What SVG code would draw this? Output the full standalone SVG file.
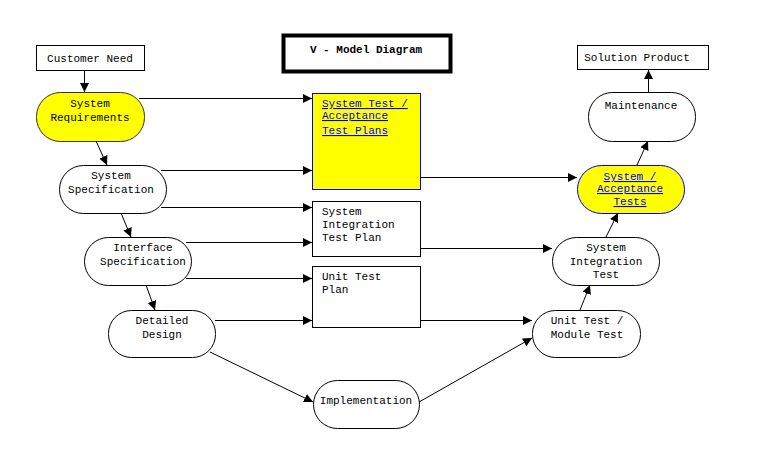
<svg xmlns="http://www.w3.org/2000/svg" width="769" height="461" viewBox="0 0 769 461">
<style>
text{font-family:"Liberation Mono","Courier New",monospace;font-size:11px;fill:#000;text-anchor:middle}
.l{text-anchor:start}
.u{fill:#0000ff;text-decoration:underline}
.n{fill:#fff;stroke:#000;stroke-width:1}
.y{fill:#ffff00;stroke:#333;stroke-width:1}
.yb{fill:#ffff00;stroke:#0000ff;stroke-width:1}
.c line{stroke:#000;stroke-width:1;marker-end:url(#a)}
</style>
<defs><marker id="a" viewBox="0 0 10 10" refX="10" refY="5" markerWidth="9" markerHeight="9" markerUnits="userSpaceOnUse" orient="auto"><path d="M0,0L10,5L0,10z" fill="#000"/></marker></defs>
<rect width="769" height="461" fill="#fff"/>
<g id="title"><rect x="283.5" y="35.5" width="167" height="36" fill="#fff" stroke="#000" stroke-width="4"/><text x="366" y="53" style="font-weight:bold">V - Model Diagram</text></g>
<g id="customer"><rect class="n" x="36.5" y="45.5" width="108" height="25"/><text x="90" y="62">Customer Need</text></g>
<g id="sysreq"><rect class="y" x="36.5" y="92.5" width="108" height="49" rx="24"/><text x="90" y="107">System</text><text x="90" y="121">Requirements</text></g>
<g id="sysspec"><rect class="n" x="59.5" y="165.5" width="107" height="48" rx="24"/><text x="111" y="179">System</text><text x="111" y="193">Specification</text></g>
<g id="ifspec"><rect class="n" x="84.5" y="237.5" width="107" height="48" rx="24"/><text x="143" y="251">Interface</text><text x="143" y="265">Specification</text></g>
<g id="detailed"><rect class="n" x="108.5" y="310.5" width="107" height="47" rx="23"/><text x="162" y="324">Detailed</text><text x="162" y="338">Design</text></g>
<g id="impl"><rect class="n" x="313.5" y="380.5" width="106" height="48" rx="24"/><text x="366" y="404">Implementation</text></g>
<g id="unittest"><rect class="n" x="532.5" y="310.5" width="108" height="47" rx="23"/><text x="587" y="324">Unit Test /</text><text x="587" y="338">Module Test</text></g>
<g id="sit"><rect class="n" x="552.5" y="237.5" width="107" height="48" rx="24"/><text x="606" y="251">System</text><text x="606" y="265">Integration</text><text x="606" y="278">Test</text></g>
<g id="sat"><rect class="yb" x="577.5" y="165.5" width="107" height="48" rx="24"/><text class="u" x="630" y="180">System /</text><text class="u" x="630" y="192">Acceptance</text><text class="u" x="630" y="205">Tests</text></g>
<g id="maint"><rect class="n" x="588.5" y="92.5" width="107" height="49" rx="24"/><text x="641" y="109">Maintenance</text></g>
<g id="solution"><rect class="n" x="577.5" y="45.5" width="131" height="24"/><text x="637" y="61">Solution Product</text></g>
<g id="stplans"><rect class="yb" x="312.5" y="93.5" width="108" height="96"/><text class="l u" x="322" y="107">System Test /</text><text class="l u" x="322" y="119">Acceptance</text><text class="l u" x="322" y="134">Test Plans</text></g>
<g id="sitplan"><rect class="n" x="312.5" y="201.5" width="108" height="55"/><text class="l" x="322" y="215">System</text><text class="l" x="322" y="228">Integration</text><text class="l" x="322" y="241">Test Plan</text></g>
<g id="utplan"><rect class="n" x="312.5" y="266.5" width="108" height="61"/><text class="l" x="322" y="280">Unit Test</text><text class="l" x="322" y="293">Plan</text></g>
<g class="c" id="connectors">
<line x1="84.5" y1="70" x2="84.5" y2="92"/>
<line x1="139" y1="98.5" x2="312" y2="98.5"/>
<line x1="96" y1="141" x2="107" y2="165"/>
<line x1="161" y1="170.5" x2="312" y2="170.5"/>
<line x1="161" y1="207.5" x2="312" y2="207.5"/>
<line x1="121" y1="213" x2="131" y2="237"/>
<line x1="186" y1="242.5" x2="312" y2="242.5"/>
<line x1="186" y1="278.5" x2="312" y2="278.5"/>
<line x1="146" y1="285" x2="155" y2="310"/>
<line x1="215" y1="320.5" x2="312" y2="320.5"/>
<line x1="210" y1="352" x2="313" y2="402"/>
<line x1="419" y1="402" x2="532" y2="338"/>
<line x1="420" y1="177.5" x2="577" y2="177.5"/>
<line x1="420" y1="248.5" x2="552" y2="248.5"/>
<line x1="420" y1="320.5" x2="532" y2="320.5"/>
<line x1="580" y1="310" x2="590" y2="285"/>
<line x1="606" y1="237" x2="618" y2="213"/>
<line x1="637" y1="165" x2="648" y2="141"/>
<line x1="648.5" y1="92" x2="648.5" y2="70"/>
</g>
</svg>
